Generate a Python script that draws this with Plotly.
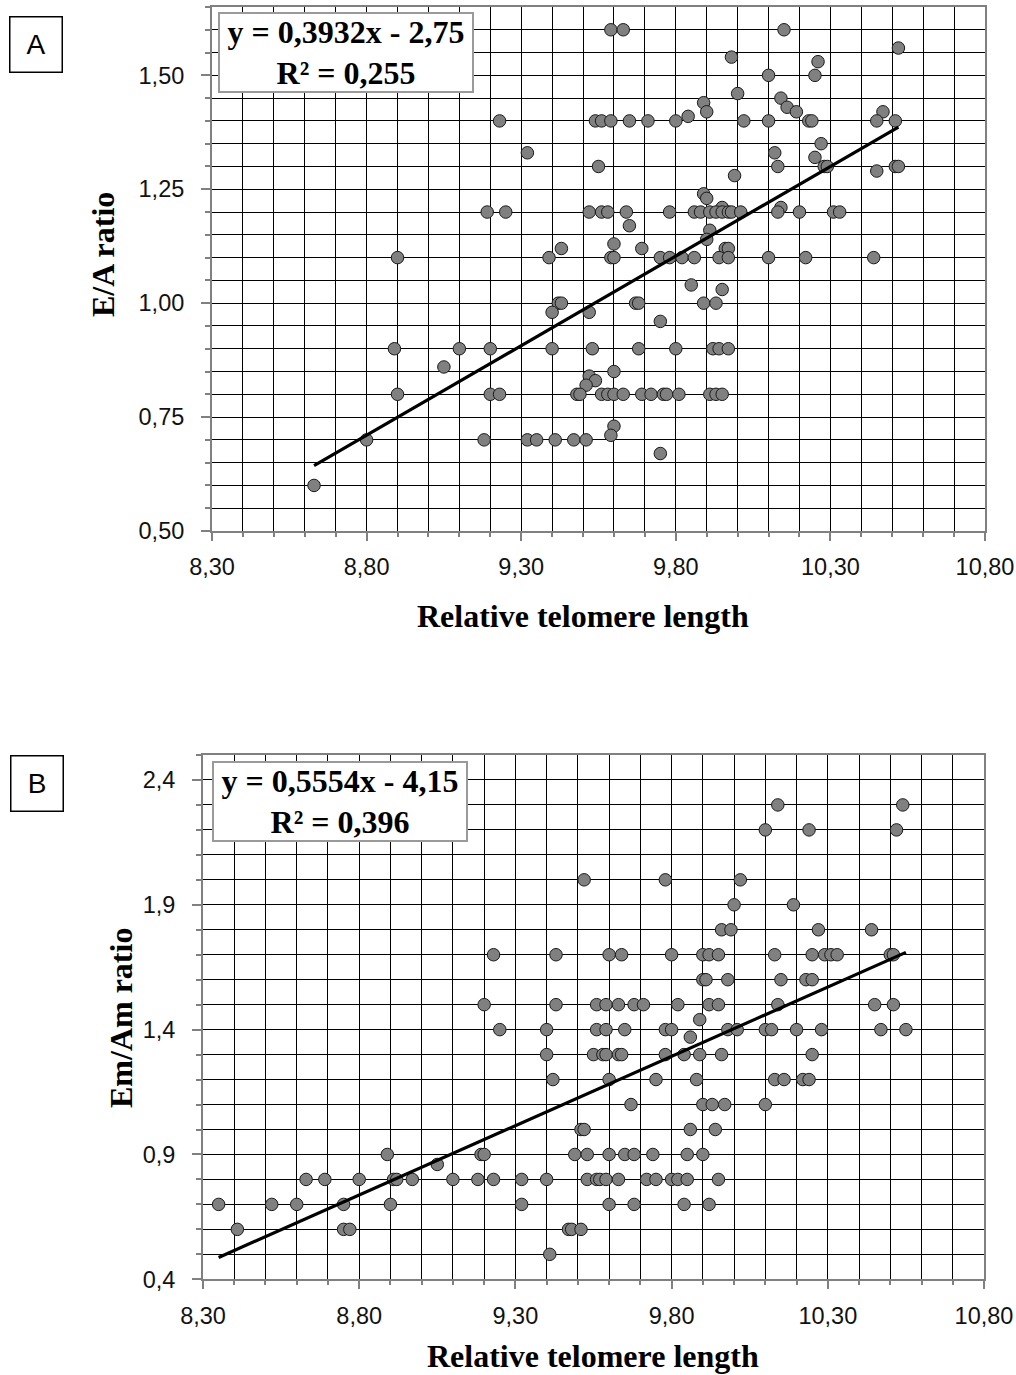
import plotly.graph_objects as go

# ---------------- Panel A data (E/A ratio) ----------------
a_x = [9.59, 9.63, 10.15,
       10.52, 9.98, 10.26,
       10.10, 10.25,
       10.00, 10.14, 9.89, 10.16,
       9.90, 10.19, 10.47, 9.84,
       9.23, 9.54, 9.56, 9.59, 9.65, 9.71, 9.80, 10.02, 10.10, 10.23, 10.24, 10.45, 10.51,
       10.27, 9.32, 10.12, 10.25,
       9.55, 10.13, 10.28, 10.29, 10.51, 10.52,
       10.45, 9.99, 9.89, 9.90, 9.95, 10.14,
       9.19, 9.25, 9.52, 9.56, 9.58, 9.64, 9.78, 9.86, 9.88, 9.91, 9.93, 9.95, 9.97, 9.98, 10.01, 10.13, 10.20, 10.31, 10.33,
       9.65, 9.91, 9.90, 9.60,
       9.43, 9.69, 9.96, 9.97,
       8.90, 9.39, 9.59, 9.60, 9.75, 9.78, 9.82, 9.86, 9.94, 9.97, 10.10, 10.22, 10.44,
       9.85, 9.95,
       9.42, 9.43, 9.67, 9.68, 9.89, 9.93,
       9.40, 9.52, 9.75,
       8.89, 9.10, 9.20, 9.40, 9.53, 9.68, 9.80, 9.92, 9.94, 9.97,
       9.05, 9.60, 9.52, 9.54, 9.51,
       8.90, 9.20, 9.23, 9.48, 9.49, 9.56, 9.58, 9.60, 9.63, 9.69, 9.72, 9.76, 9.77, 9.81, 9.91, 9.93, 9.95,
       9.60, 9.59,
       8.80, 9.18, 9.32, 9.35, 9.41, 9.47, 9.51,
       9.75, 8.63]
a_y = [1.60, 1.60, 1.60,
       1.56, 1.54, 1.53,
       1.50, 1.50,
       1.46, 1.45, 1.44, 1.43,
       1.42, 1.42, 1.42, 1.41,
       1.40, 1.40, 1.40, 1.40, 1.40, 1.40, 1.40, 1.40, 1.40, 1.40, 1.40, 1.40, 1.40,
       1.35, 1.33, 1.33, 1.32,
       1.30, 1.30, 1.30, 1.30, 1.30, 1.30,
       1.29, 1.28, 1.24, 1.23, 1.21, 1.21,
       1.20, 1.20, 1.20, 1.20, 1.20, 1.20, 1.20, 1.20, 1.20, 1.20, 1.20, 1.20, 1.20, 1.20, 1.20, 1.20, 1.20, 1.20, 1.20,
       1.17, 1.16, 1.14, 1.13,
       1.12, 1.12, 1.12, 1.12,
       1.10, 1.10, 1.10, 1.10, 1.10, 1.10, 1.10, 1.10, 1.10, 1.10, 1.10, 1.10, 1.10,
       1.04, 1.03,
       1.00, 1.00, 1.00, 1.00, 1.00, 1.00,
       0.98, 0.98, 0.96,
       0.90, 0.90, 0.90, 0.90, 0.90, 0.90, 0.90, 0.90, 0.90, 0.90,
       0.86, 0.85, 0.84, 0.83, 0.82,
       0.80, 0.80, 0.80, 0.80, 0.80, 0.80, 0.80, 0.80, 0.80, 0.80, 0.80, 0.80, 0.80, 0.80, 0.80, 0.80, 0.80,
       0.73, 0.71,
       0.70, 0.70, 0.70, 0.70, 0.70, 0.70, 0.70,
       0.67, 0.60]
a_slope, a_intercept, a_r2 = 0.3932, -2.75, 0.255

# ---------------- Panel B data (Em/Am ratio) ----------------
b_x = [10.14, 10.54,
       10.10, 10.24, 10.52,
       9.52, 9.78, 10.02,
       10.00, 10.19,
       9.96, 9.99, 10.27, 10.44,
       9.23, 9.43, 9.60, 9.64, 9.80, 9.90, 9.92, 9.95, 10.13, 10.25, 10.29, 10.31, 10.33, 10.50, 10.51,
       9.90, 9.91, 9.98, 10.15, 10.23, 10.25,
       9.20, 9.43, 9.56, 9.59, 9.63, 9.68, 9.71, 9.82, 9.92, 9.95, 10.14, 10.45, 10.51,
       9.89,
       9.25, 9.40, 9.56, 9.59, 9.65, 9.78, 9.80, 9.98, 10.01, 10.10, 10.12, 10.20, 10.28, 10.47, 10.55,
       9.86,
       9.40, 9.55, 9.58, 9.59, 9.63, 9.64, 9.78, 9.84, 9.89, 9.96, 10.25,
       9.42, 9.60, 9.75, 9.88, 10.13, 10.16, 10.22, 10.24,
       9.67, 9.90, 9.93, 9.97, 10.10,
       9.51, 9.52, 9.86, 9.94,
       8.89, 9.19, 9.20, 9.49, 9.53, 9.60, 9.65, 9.68, 9.74, 9.85, 9.90,
       9.05,
       8.63, 8.69, 8.80, 8.91, 8.92, 8.97, 9.10, 9.18, 9.23, 9.32, 9.40, 9.53, 9.56, 9.57, 9.59, 9.63, 9.72, 9.75, 9.80, 9.82, 9.85, 9.95,
       8.35, 8.52, 8.60, 8.75, 8.90, 9.32, 9.60, 9.68, 9.84, 9.92,
       8.41, 8.75, 8.77, 9.47, 9.48, 9.51,
       9.41]
b_y = [2.30, 2.30,
       2.20, 2.20, 2.20,
       2.00, 2.00, 2.00,
       1.90, 1.90,
       1.80, 1.80, 1.80, 1.80,
       1.70, 1.70, 1.70, 1.70, 1.70, 1.70, 1.70, 1.70, 1.70, 1.70, 1.70, 1.70, 1.70, 1.70, 1.70,
       1.60, 1.60, 1.60, 1.60, 1.60, 1.60,
       1.50, 1.50, 1.50, 1.50, 1.50, 1.50, 1.50, 1.50, 1.50, 1.50, 1.50, 1.50, 1.50,
       1.44,
       1.40, 1.40, 1.40, 1.40, 1.40, 1.40, 1.40, 1.40, 1.40, 1.40, 1.40, 1.40, 1.40, 1.40, 1.40,
       1.37,
       1.30, 1.30, 1.30, 1.30, 1.30, 1.30, 1.30, 1.30, 1.30, 1.30, 1.30,
       1.20, 1.20, 1.20, 1.20, 1.20, 1.20, 1.20, 1.20,
       1.10, 1.10, 1.10, 1.10, 1.10,
       1.00, 1.00, 1.00, 1.00,
       0.90, 0.90, 0.90, 0.90, 0.90, 0.90, 0.90, 0.90, 0.90, 0.90, 0.90,
       0.86,
       0.80, 0.80, 0.80, 0.80, 0.80, 0.80, 0.80, 0.80, 0.80, 0.80, 0.80, 0.80, 0.80, 0.80, 0.80, 0.80, 0.80, 0.80, 0.80, 0.80, 0.80, 0.80,
       0.70, 0.70, 0.70, 0.70, 0.70, 0.70, 0.70, 0.70, 0.70, 0.70,
       0.60, 0.60, 0.60, 0.60, 0.60, 0.60,
       0.50]
b_slope, b_intercept, b_r2 = 0.5554, -4.15, 0.396

x_title = "Relative telomere length"
a_ytitle = "E/A ratio"
b_ytitle = "Em/Am ratio"

# ---------------- figure ----------------
W, H = 1016, 1375
GRID = "#000000"
AXC = "#808080"
TICKFONT = dict(family="Liberation Sans, Arial, sans-serif", size=23.5, color="#111111")
SERIF = "Liberation Serif, Times New Roman, serif"

marker = dict(size=12.5, color="#808080", line=dict(color="#1a1a1a", width=1))

fig = go.Figure()
fig.add_trace(go.Scatter(x=a_x, y=a_y, mode="markers", marker=marker,
                         xaxis="x", yaxis="y", showlegend=False, hoverinfo="x+y"))
ax0, ax1 = min(a_x), max(a_x)
fig.add_trace(go.Scatter(x=[ax0, ax1], y=[a_slope * ax0 + a_intercept, a_slope * ax1 + a_intercept],
                         mode="lines", line=dict(color="black", width=3.2),
                         xaxis="x", yaxis="y", showlegend=False))
fig.add_trace(go.Scatter(x=b_x, y=b_y, mode="markers", marker=marker,
                         xaxis="x2", yaxis="y2", showlegend=False, hoverinfo="x+y"))
bx0, bx1 = min(b_x), max(b_x)
fig.add_trace(go.Scatter(x=[bx0, bx1], y=[b_slope * bx0 + b_intercept, b_slope * bx1 + b_intercept],
                         mode="lines", line=dict(color="black", width=3.2),
                         xaxis="x2", yaxis="y2", showlegend=False))


def px(x):
    return x / W


def py(y):
    return 1 - y / H


def xaxis(domain, anchor):
    return dict(domain=domain, anchor=anchor, range=[8.3, 10.8], tick0=8.3, dtick=0.5,
                tickformat=".2f", ticks="outside", ticklen=8, tickcolor=AXC, tickwidth=1.5,
                showgrid=True, gridcolor=GRID, gridwidth=1,
                minor=dict(tick0=8.3, dtick=0.1, showgrid=True, gridcolor=GRID, gridwidth=1,
                           ticks="outside", ticklen=4, tickcolor=AXC),
                showline=True, linecolor=AXC, linewidth=2, mirror=True, zeroline=False,
                automargin=False,
                tickfont=TICKFONT, ticklabelstandoff=6, fixedrange=True)


def yaxis(domain, anchor, rng, dtick, minor, fmt):
    return dict(domain=domain, anchor=anchor, range=rng, tick0=rng[0], dtick=dtick,
                tickformat=fmt, ticks="outside", ticklen=9, tickcolor=AXC, tickwidth=1.5,
                showgrid=True, gridcolor=GRID, gridwidth=1,
                minor=dict(tick0=rng[0], dtick=minor, showgrid=True, gridcolor=GRID, gridwidth=1,
                           ticks="outside", ticklen=5, tickcolor=AXC),
                showline=True, linecolor=AXC, linewidth=2, mirror=True, zeroline=False,
                automargin=False,
                tickfont=TICKFONT, ticklabelstandoff=12, fixedrange=True)


def fmt_eq(s, b):
    sign = "-" if b < 0 else "+"
    return f"y = {s:.4f}x {sign} {abs(b):.2f}".replace(".", ",")


annotations = []


def eq_box(cx, cy, slope, intercept, r2):
    annotations.append(dict(
        xref="paper", yref="paper", x=px(cx), y=py(cy), xanchor="center", yanchor="middle",
        text="<b>" + fmt_eq(slope, intercept) + "<br>" + f"R² = {r2:.3f}".replace(".", ",") + "</b>",
        showarrow=False, align="center", bgcolor="white", bordercolor="#9a9a9a",
        borderwidth=2, borderpad=0, width=252, height=77,
        font=dict(family=SERIF, size=32, color="black")))


def letter_box(cx, cy, t):
    annotations.append(dict(
        xref="paper", yref="paper", x=px(cx), y=py(cy), xanchor="center", yanchor="middle",
        text=t, showarrow=False, bgcolor="white", bordercolor="black", borderwidth=1.5,
        borderpad=0, width=51, height=54,
        font=dict(family="Liberation Sans, Arial, sans-serif", size=28, color="black")))


def title(cx, cy, t, angle=0):
    annotations.append(dict(
        xref="paper", yref="paper", x=px(cx), y=py(cy), xanchor="center", yanchor="middle",
        text="<b>" + t + "</b>", showarrow=False, textangle=angle,
        font=dict(family=SERIF, size=32, color="black")))


eq_box(346, 52.5, a_slope, a_intercept, a_r2)
eq_box(340, 801, b_slope, b_intercept, b_r2)
letter_box(36, 44.5, "A")
letter_box(37, 783, "B")
title(583, 616, x_title)
title(593, 1356, x_title)
title(103, 255, a_ytitle, -90)
title(121, 1018, b_ytitle, -90)

fig.update_layout(
    width=W, height=H, margin=dict(l=0, r=0, t=0, b=0, autoexpand=False),
    paper_bgcolor="white", plot_bgcolor="white", separators=", ",
    showlegend=False,
    xaxis=xaxis([px(212), px(985)], "y"),
    yaxis=yaxis([py(531), py(7)], "x", [0.5, 1.65], 0.25, 0.05, ".2f"),
    xaxis2=xaxis([px(203), px(984)], "y2"),
    yaxis2=yaxis([py(1279.3), py(755)], "x2", [0.4, 2.5], 0.5, 0.1, ".1f"),
    annotations=annotations,
)

fig.write_html(
    "out.html",
    config={"displayModeBar": False},
    post_script="document.body.style.margin='0px';document.body.style.padding='0px';"
                "document.documentElement.style.overflow='hidden';",
)
